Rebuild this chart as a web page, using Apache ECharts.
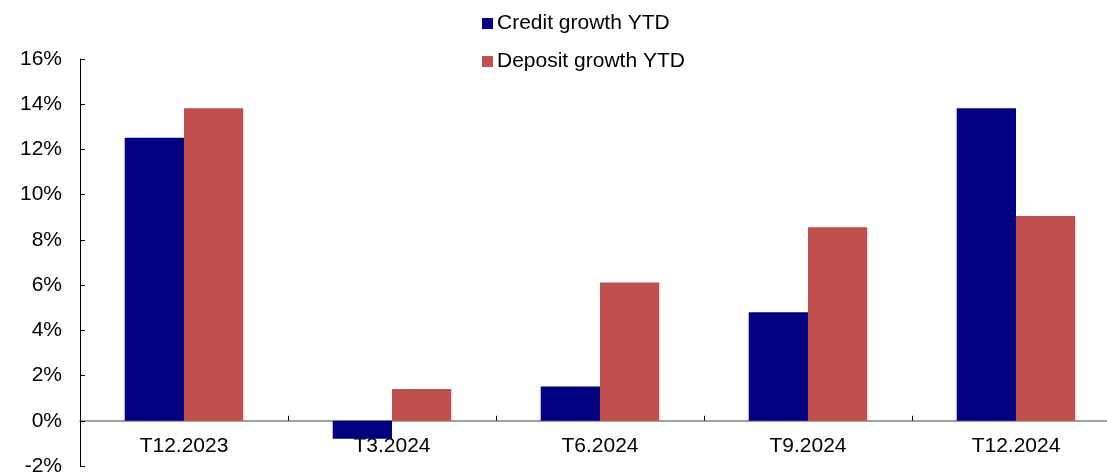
<!DOCTYPE html>
<html>
<head>
<meta charset="utf-8">
<script src="https://cdn.jsdelivr.net/npm/echarts@6/dist/echarts.min.js"></script>
<style>
  html, body { margin: 0; padding: 0; background: #fff; }
  #chart { width: 1107px; height: 473px; }
</style>
</head>
<body>
<div id="chart"></div>
<script>
// Year-to-date growth by quarter-end, in percent
const categories = ['T12.2023', 'T3.2024', 'T6.2024', 'T9.2024', 'T12.2024'];
const creditGrowth = [12.52, -0.8, 1.52, 4.80, 13.82];
const depositGrowth = [13.82, 1.40, 6.11, 8.56, 9.06];
const seriesNames = ['Credit growth YTD', 'Deposit growth YTD'];

const FONT = 'Liberation Sans, Arial, sans-serif';
const Y_MIN = -2, Y_MAX = 16, Y_STEP = 2;
const GRID = { left: 80, top: 59, bottom: 7, right: -13 };
const H = 473;

// The category axis sits on the zero line: shift it up by the height of the
// band between the minimum and zero.
const plotHeight = H - GRID.top - GRID.bottom;
const zeroOffset = -plotHeight * (0 - Y_MIN) / (Y_MAX - Y_MIN);

const chart = echarts.init(document.getElementById('chart'), null, { renderer: 'canvas' });
chart.setOption({
  animation: false,
  backgroundColor: '#ffffff',
  textStyle: { fontFamily: FONT },
  legend: {
    orient: 'vertical',
    left: 477,
    top: 8,
    itemWidth: 11,
    itemHeight: 11,
    itemGap: 17,
    icon: 'rect',
    textStyle: { fontSize: 21, color: '#000', fontFamily: FONT, padding: [0, 0, 0, -1] },
    data: seriesNames
  },
  grid: Object.assign({ containLabel: false, outerBoundsMode: 'none' }, GRID),
  xAxis: {
    type: 'category',
    data: categories,
    boundaryGap: true,
    position: 'bottom',
    offset: zeroOffset,
    axisLine: { onZero: false, lineStyle: { color: '#808080', width: 1.5 } },
    axisTick: { show: true, inside: true, length: 5, alignWithLabel: false, lineStyle: { color: '#000' } },
    axisLabel: { fontSize: 21, color: '#000', margin: 15, fontFamily: FONT },
    splitLine: { show: false }
  },
  yAxis: {
    type: 'value',
    min: Y_MIN,
    max: Y_MAX,
    interval: Y_STEP,
    axisLine: { show: true, lineStyle: { color: '#000', width: 1 } },
    axisTick: { show: true, inside: true, length: 5, lineStyle: { color: '#000' } },
    axisLabel: { fontSize: 21, color: '#000', margin: 18, formatter: '{value}%', fontFamily: FONT },
    splitLine: { show: false }
  },
  series: [
    {
      name: seriesNames[0],
      type: 'bar',
      data: creditGrowth,
      barGap: '0%',
      barCategoryGap: '43%',
      itemStyle: { color: '#000080' }
    },
    {
      name: seriesNames[1],
      type: 'bar',
      data: depositGrowth,
      barGap: '0%',
      barCategoryGap: '43%',
      itemStyle: { color: '#C0504D' }
    }
  ]
});
</script>
</body>
</html>
